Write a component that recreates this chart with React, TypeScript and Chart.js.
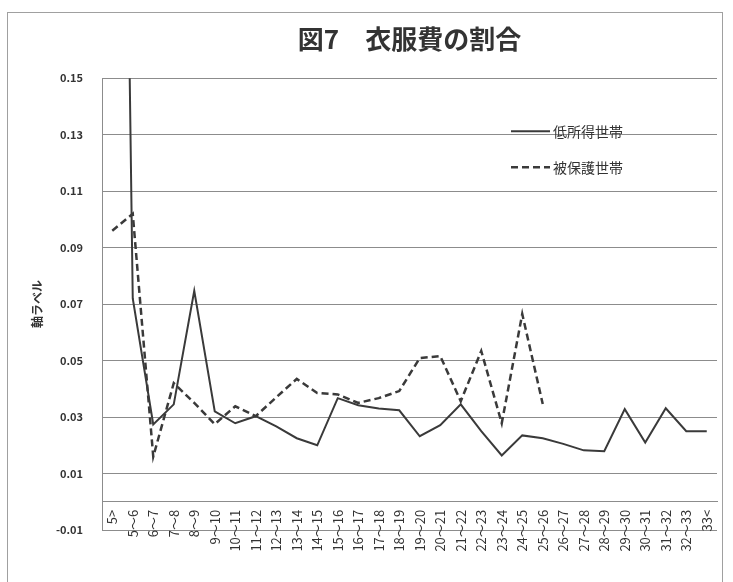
import React, { useEffect, useRef } from "react";
import { Chart, registerables } from "chart.js";

Chart.register(...registerables);

const categories = [
  "5>", "5～6", "6～7", "7～8", "8～9", "9～10", "10～11", "11～12", "12～13", "13～14",
  "14～15", "15～16", "16～17", "17～18", "18～19", "19～20", "20～21", "21～22", "22～23", "23～24",
  "24～25", "25～26", "26～27", "27～28", "28～29", "29～30", "30～31", "31～32", "32～33", "33<",
];

const lowIncome = [
  0.6, 0.072, 0.0274, 0.0345, 0.0747, 0.032, 0.0278, 0.0303, 0.0267, 0.0225,
  0.02, 0.0367, 0.0342, 0.033, 0.0324, 0.0232, 0.0271, 0.0345, 0.025, 0.0164,
  0.0235, 0.0225, 0.0205, 0.0182, 0.0179, 0.0328, 0.021, 0.0331, 0.025, 0.025,
];

const welfare = [
  0.096, 0.102, 0.016, 0.042, 0.035, 0.0275, 0.0338, 0.0303, 0.037, 0.0435,
  0.0385, 0.038, 0.035, 0.0367, 0.0392, 0.0509, 0.0516, 0.0356, 0.0534, 0.0278,
  0.0665, 0.0346, null, null, null, null, null, null, null, null,
];

const seriesNames = ["低所得世帯", "被保護世帯"];
const chartTitle = "図7　衣服費の割合";
const yAxisTitle = "軸ラベル";
const yMin = -0.01;
const yMax = 0.15;
const yStep = 0.02;

const FONT = "'Noto Sans CJK JP', 'Noto Sans', sans-serif";
const INK = "#333333";

export default function App() {
  const ref = useRef<HTMLCanvasElement>(null);

  useEffect(() => {
    if (!ref.current) return;

    const framePlugin = {
      id: "frame",
      beforeDraw(chart: any) {
        const ctx = chart.ctx;
        ctx.save();
        ctx.fillStyle = "#ffffff";
        ctx.fillRect(0, 0, chart.width, chart.height);
        ctx.strokeStyle = "#a0a0a0";
        ctx.lineWidth = 1;
        ctx.strokeRect(7.5, 12.5, 715, 600);
        ctx.restore();
      },
    };

    const legendPlugin = {
      id: "insideLegend",
      afterDraw(chart: any) {
        const ctx = chart.ctx;
        const area = chart.chartArea;
        const x0 = area.right - 206;
        const rows = [area.top + 53, area.top + 89];
        ctx.save();
        chart.data.datasets.forEach((ds: any, i: number) => {
          const y = rows[i];
          ctx.beginPath();
          ctx.strokeStyle = ds.borderColor;
          ctx.lineWidth = ds.borderWidth;
          ctx.setLineDash(ds.borderDash || []);
          ctx.moveTo(x0, y);
          ctx.lineTo(x0 + 39, y);
          ctx.stroke();
          ctx.setLineDash([]);
          ctx.fillStyle = INK;
          ctx.font = `14px ${FONT}`;
          ctx.textBaseline = "middle";
          ctx.textAlign = "left";
          ctx.fillText(ds.label, x0 + 42, y);
        });
        ctx.restore();
      },
    };

    const chart = new Chart(ref.current, {
      type: "line",
      data: {
        labels: categories,
        datasets: [
          {
            label: seriesNames[0],
            data: lowIncome,
            borderColor: "#3a3a3a",
            borderWidth: 2,
            pointRadius: 0,
            tension: 0,
            fill: false,
          },
          {
            label: seriesNames[1],
            data: welfare,
            borderColor: "#3a3a3a",
            borderWidth: 2.5,
            borderDash: [7, 4],
            pointRadius: 0,
            tension: 0,
            fill: false,
            spanGaps: false,
          },
        ],
      },
      plugins: [framePlugin, legendPlugin],
      options: {
        responsive: false,
        animation: false,
        devicePixelRatio: 1,
        layout: { padding: { left: 25, top: 10, right: 16, bottom: 52 } },
        plugins: {
          legend: { display: false },
          tooltip: { enabled: false },
          title: {
            display: true,
            text: chartTitle,
            fullSize: false,
            color: INK,
            font: { family: FONT, size: 26, weight: "bold" },
            padding: { top: 14, bottom: 23 },
          },
        },
        scales: {
          x: {
            type: "category",
            position: { y: 0 } as any,
            offset: true,
            grid: { display: false, drawTicks: true, tickLength: 5 },
            border: { display: true, color: "#8c8c8c", width: 1 },
            ticks: {
              autoSkip: false,
              maxRotation: 90,
              minRotation: 90,
              padding: 3,
              color: INK,
              font: { family: FONT, size: 13 },
            },
          },
          y: {
            type: "linear",
            min: yMin,
            max: yMax,
            afterFit(scale: any) {
              scale.width = 77;
            },
            ticks: {
              stepSize: yStep,
              padding: 19,
              color: INK,
              font: { family: FONT, size: 11, weight: "bold" },
              callback: (v: any) => Number(v).toFixed(2),
            },
            grid: { color: "#8c8c8c", lineWidth: 1, drawTicks: false },
            border: { display: true, color: "#8c8c8c", width: 1 },
            title: {
              display: true,
              text: yAxisTitle,
              color: INK,
              font: { family: FONT, size: 12, weight: "bold" },
              padding: { top: 5, bottom: 0 },
            },
          },
        },
      },
    });

    return () => chart.destroy();
  }, []);

  return (
    <div style={{ position: "absolute", left: 0, top: 0, width: 733, height: 582 }}>
      <canvas ref={ref} width={733} height={582} style={{ width: 733, height: 582, display: "block" }} />
    </div>
  );
}
